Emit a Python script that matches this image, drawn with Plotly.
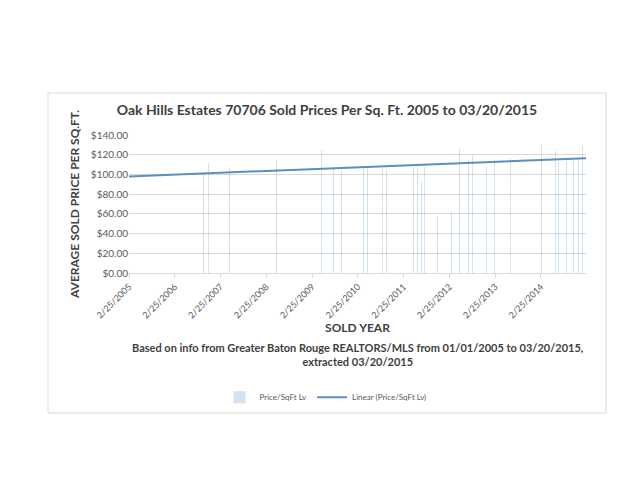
import plotly.graph_objects as go

sale_dates = ["2006-10-15","2006-11-20","2007-05-10","2008-05-15","2009-05-10","2009-08-15",
              "2009-10-20","2010-04-10","2010-05-15","2010-09-10","2010-10-15","2011-05-15",
              "2011-06-15","2011-07-15","2011-08-15","2011-11-20","2012-03-10","2012-05-20",
              "2012-07-25","2012-09-01","2012-12-15","2013-02-20","2013-06-25","2014-03-05",
              "2014-06-20","2014-07-15","2014-09-15","2014-11-10","2014-12-20","2015-01-25"]
price_sqft = [100,112,107,115,125,107,105,108,107,107,105,108,110,92,108,58,63,126,115,120,
              108,115,117,130,124,112,115,115,114,129]
trend_dates = ["2005-02-25","2015-02-20"]
trend_vals = [98,116.5]

fig = go.Figure()
fig.add_bar(x=sale_dates, y=price_sqft, width=8*86400000, name="Price/SqFt Lv",
            marker=dict(color="rgba(91,155,213,0.28)", line=dict(width=0)))
fig.add_scatter(x=trend_dates, y=trend_vals, mode="lines", name="Linear (Price/SqFt Lv)",
                line=dict(color="#5b8fc0", width=2))

F = "Lato"
fig.update_layout(
    width=638, height=493, paper_bgcolor="white", plot_bgcolor="white",
    margin=dict(l=121, r=60, t=127, b=228),
    font=dict(family=F, color="#404040"),
    title=dict(text="<b>Oak Hills Estates 70706 Sold Prices Per Sq. Ft. 2005 to 03/20/2015</b>",
               x=0.5, xanchor="center", y=1-102/493, yanchor="middle", font=dict(size=14, color="#404040")),
    showlegend=True,
    legend=dict(orientation="h", x=0.43, xanchor="center", y=-0.9, yanchor="middle",
                font=dict(size=8, color="#595959")),
    bargap=0,
)
fig.update_xaxes(type="date", range=["2005-02-25","2015-02-20"], tick0="2005-02-25", dtick="M12",
                 tickformat="%-m/%-d/%Y", tickangle=-45, showgrid=False, showline=True,
                 linecolor="#d9d9d9", ticks="outside", tickcolor="#d9d9d9", ticklen=4,
                 tickfont=dict(size=9, color="#595959"),
                 title=dict(text="<b>SOLD YEAR</b>", font=dict(size=12, color="#404040"), standoff=2))
fig.update_yaxes(range=[0,140], dtick=20, tickprefix="$", tickformat=",.2f", gridcolor="#d9d9d9",
                 zeroline=False, tickfont=dict(size=10, color="#595959"),
                 title=dict(text="<b>AVERAGE SOLD PRICE PER SQ.FT.</b>", font=dict(size=12, color="#404040"), standoff=8))
fig.add_annotation(xref="paper", yref="paper", x=0.5, y=-(346-265)/138, yanchor="middle",
                   showarrow=False, align="center",
                   text="<b>Based on info from Greater Baton Rouge REALTORS/MLS from 01/01/2005 to 03/20/2015,<br>extracted 03/20/2015</b>",
                   font=dict(size=11, color="#404040"))
fig.add_shape(type="rect", xref="paper", yref="paper", x0=(40-121)/457, x1=(598-121)/457,
              y0=-(405-265)/138, y1=1+(127-85)/138, line=dict(color="#d9d9d9", width=1))
fig.write_html("out.html")
